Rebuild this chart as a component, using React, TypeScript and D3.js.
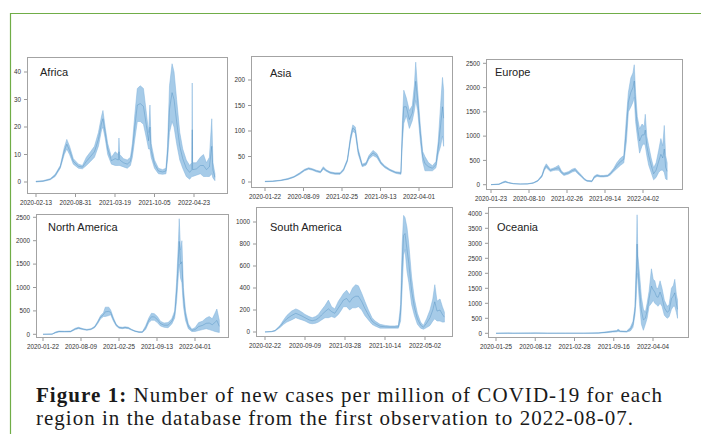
import React from "react";
import * as d3 from "d3";

type Row = [string, number, number]; // date, low, high (band of the noisy daily series)

const africa: Row[] = [
  ["2020-02-13", 0, 0.3], ["2020-03-20", 0.2, 0.5], ["2020-04-25", 0.8, 1.2], ["2020-05-20", 2, 2.8],
  ["2020-06-15", 5, 6], ["2020-07-05", 10, 12.5], ["2020-07-18", 12, 15.5], ["2020-08-01", 10, 13],
  ["2020-08-20", 6.5, 8.5], ["2020-09-15", 5, 6.5], ["2020-10-05", 4.8, 6], ["2020-10-25", 6, 9],
  ["2020-11-15", 7.5, 11], ["2020-12-05", 9, 13], ["2020-12-25", 13, 18], ["2021-01-10", 19, 24],
  ["2021-01-17", 20, 26], ["2021-01-28", 16, 20], ["2021-02-10", 10, 14], ["2021-03-01", 6.5, 9],
  ["2021-03-20", 6, 11], ["2021-04-05", 6, 10], ["2021-04-08", 6, 16], ["2021-04-12", 6, 10],
  ["2021-05-01", 5.5, 8.5], ["2021-05-20", 5, 8], ["2021-06-05", 6, 9], ["2021-06-15", 9, 14],
  ["2021-06-28", 16, 25], ["2021-07-10", 22, 34], ["2021-07-25", 22, 35], ["2021-08-10", 21, 34],
  ["2021-08-25", 16, 25], ["2021-09-05", 12, 18], ["2021-09-12", 12, 28], ["2021-09-18", 9, 14],
  ["2021-10-05", 5, 8], ["2021-10-25", 3, 5], ["2021-11-15", 2.8, 4.5], ["2021-12-02", 3, 5],
  ["2021-12-10", 8, 13], ["2021-12-20", 18, 35], ["2022-01-02", 22, 43], ["2022-01-12", 20, 40],
  ["2022-01-25", 14, 30], ["2022-02-10", 8, 18], ["2022-02-25", 5, 12], ["2022-03-15", 2, 8],
  ["2022-04-01", 1, 6], ["2022-04-12", 2, 7], ["2022-04-14", 2, 36], ["2022-04-16", 2, 7],
  ["2022-05-05", 2.5, 7], ["2022-05-25", 3, 9], ["2022-06-10", 2, 10], ["2022-06-25", 2, 7],
  ["2022-07-10", 2, 9], ["2022-07-22", 3, 23], ["2022-07-28", 1.5, 7], ["2022-08-07", 0.5, 3],
];

const asia: Row[] = [
  ["2020-01-22", 0.5, 1.5], ["2020-03-01", 1, 2], ["2020-04-10", 2.5, 3.5], ["2020-05-20", 5, 7],
  ["2020-06-20", 9, 11], ["2020-07-20", 15, 18], ["2020-08-15", 22, 25], ["2020-09-05", 25, 28],
  ["2020-09-25", 23, 26], ["2020-10-15", 20, 23], ["2020-11-05", 18, 21], ["2020-11-20", 25, 30],
  ["2020-12-05", 21, 24], ["2020-12-25", 17, 20], ["2021-01-20", 15, 18], ["2021-02-15", 15, 18],
  ["2021-03-05", 22, 26], ["2021-03-25", 40, 45], ["2021-04-10", 80, 90], ["2021-04-22", 100, 112],
  ["2021-05-05", 95, 108], ["2021-05-20", 55, 65], ["2021-06-10", 30, 35], ["2021-06-30", 33, 38],
  ["2021-07-15", 45, 52], ["2021-08-05", 52, 62], ["2021-08-25", 48, 56], ["2021-09-15", 35, 40],
  ["2021-10-05", 28, 32], ["2021-11-01", 22, 25], ["2021-12-01", 17, 20], ["2021-12-28", 15, 19],
  ["2022-01-05", 80, 120], ["2022-01-12", 115, 180], ["2022-01-25", 130, 165], ["2022-02-10", 105, 140],
  ["2022-02-25", 120, 150], ["2022-03-08", 140, 190], ["2022-03-15", 160, 235], ["2022-03-25", 140, 180],
  ["2022-04-08", 80, 110], ["2022-04-20", 40, 60], ["2022-05-02", 22, 50], ["2022-05-20", 22, 38],
  ["2022-06-10", 22, 32], ["2022-06-28", 28, 40], ["2022-07-10", 55, 80], ["2022-07-22", 70, 150],
  ["2022-08-01", 90, 205], ["2022-08-07", 70, 180],
];

const europe: Row[] = [
  ["2020-01-23", 0, 2], ["2020-03-05", 5, 15], ["2020-03-25", 35, 55], ["2020-04-07", 50, 75],
  ["2020-04-25", 35, 45], ["2020-05-20", 18, 25], ["2020-06-25", 12, 16], ["2020-08-01", 14, 18],
  ["2020-09-01", 30, 40], ["2020-09-25", 70, 90], ["2020-10-17", 160, 200], ["2020-10-30", 300, 360],
  ["2020-11-09", 350, 430], ["2020-11-30", 270, 320], ["2020-12-15", 290, 340], ["2020-12-27", 300, 360],
  ["2021-01-13", 300, 400], ["2021-01-28", 230, 280], ["2021-02-10", 190, 240], ["2021-03-07", 220, 270],
  ["2021-03-25", 260, 320], ["2021-04-10", 280, 340], ["2021-04-25", 220, 270], ["2021-05-10", 170, 210],
  ["2021-05-28", 100, 130], ["2021-06-11", 70, 90], ["2021-07-07", 60, 80], ["2021-07-20", 140, 180],
  ["2021-08-03", 170, 210], ["2021-08-20", 160, 190], ["2021-09-07", 160, 190], ["2021-09-28", 170, 200],
  ["2021-10-12", 200, 250], ["2021-10-30", 270, 340], ["2021-11-15", 330, 450], ["2021-12-05", 400, 550],
  ["2021-12-22", 450, 600], ["2022-01-05", 900, 1400], ["2022-01-15", 1500, 1900], ["2022-01-28", 1600, 2200],
  ["2022-02-08", 1700, 2300], ["2022-02-15", 1800, 2470], ["2022-02-22", 1300, 1900], ["2022-03-03", 1000, 1400],
  ["2022-03-15", 650, 1150], ["2022-03-28", 800, 1250], ["2022-04-08", 850, 1200], ["2022-04-14", 800, 1450],
  ["2022-04-22", 600, 1000], ["2022-05-02", 400, 800], ["2022-05-15", 250, 550], ["2022-05-28", 100, 350],
  ["2022-06-10", 150, 450], ["2022-06-23", 250, 700], ["2022-07-05", 300, 950], ["2022-07-15", 300, 800],
  ["2022-07-23", 250, 1220], ["2022-07-30", 120, 600], ["2022-08-07", 100, 450],
];

const northAmerica: Row[] = [
  ["2020-01-22", 0, 1], ["2020-03-10", 2, 6], ["2020-03-28", 30, 50], ["2020-04-15", 50, 70],
  ["2020-05-15", 50, 65], ["2020-06-15", 50, 70], ["2020-07-10", 100, 130], ["2020-07-27", 120, 150],
  ["2020-08-20", 100, 120], ["2020-09-09", 85, 105], ["2020-10-01", 100, 120], ["2020-10-20", 140, 170],
  ["2020-11-05", 230, 280], ["2020-11-20", 330, 400], ["2020-12-05", 380, 460], ["2020-12-15", 380, 580],
  ["2021-01-02", 400, 580], ["2021-01-12", 420, 520], ["2021-01-27", 280, 350], ["2021-02-10", 180, 220],
  ["2021-02-25", 130, 160], ["2021-03-15", 120, 150], ["2021-03-29", 130, 160], ["2021-04-15", 120, 150],
  ["2021-05-01", 90, 110], ["2021-05-20", 60, 75], ["2021-06-10", 40, 55], ["2021-06-28", 40, 55],
  ["2021-07-15", 100, 180], ["2021-08-01", 250, 350], ["2021-08-15", 300, 450], ["2021-08-30", 300, 440],
  ["2021-09-15", 250, 380], ["2021-10-01", 180, 280], ["2021-10-20", 150, 240], ["2021-11-10", 140, 250],
  ["2021-11-30", 220, 330], ["2021-12-15", 350, 500], ["2021-12-25", 700, 1100], ["2022-01-04", 1300, 2000],
  ["2022-01-08", 1500, 2470], ["2022-01-15", 1200, 1800], ["2022-01-22", 1100, 2000], ["2022-01-30", 600, 1000],
  ["2022-02-10", 300, 500], ["2022-02-25", 120, 220], ["2022-03-15", 60, 110], ["2022-04-01", 60, 140],
  ["2022-04-20", 80, 250], ["2022-05-10", 100, 280], ["2022-05-30", 120, 350], ["2022-06-15", 100, 380],
  ["2022-07-01", 80, 330], ["2022-07-15", 60, 450], ["2022-07-25", 50, 540], ["2022-08-07", 40, 300],
];

const southAmerica: Row[] = [
  ["2020-02-22", 0, 1], ["2020-03-25", 2, 5], ["2020-04-12", 8, 15], ["2020-05-07", 40, 60],
  ["2020-05-25", 70, 110], ["2020-06-10", 90, 150], ["2020-07-04", 110, 190], ["2020-07-25", 130, 210],
  ["2020-08-07", 120, 200], ["2020-08-25", 110, 180], ["2020-09-09", 100, 160], ["2020-09-30", 80, 140],
  ["2020-10-15", 75, 130], ["2020-11-01", 80, 140], ["2020-11-15", 90, 160], ["2020-12-01", 110, 200],
  ["2020-12-18", 130, 240], ["2021-01-04", 130, 290], ["2021-01-20", 140, 230], ["2021-02-05", 130, 210],
  ["2021-02-23", 160, 280], ["2021-03-10", 200, 320], ["2021-03-20", 230, 350], ["2021-04-05", 230, 380],
  ["2021-04-20", 200, 340], ["2021-05-05", 220, 400], ["2021-05-20", 220, 430], ["2021-06-03", 230, 420],
  ["2021-06-20", 200, 350], ["2021-07-05", 150, 280], ["2021-07-23", 110, 200], ["2021-08-10", 70, 130],
  ["2021-08-25", 55, 100], ["2021-09-19", 35, 70], ["2021-10-15", 35, 60], ["2021-11-08", 35, 55],
  ["2021-12-01", 35, 55], ["2021-12-20", 35, 60], ["2021-12-31", 100, 250], ["2022-01-08", 400, 800],
  ["2022-01-15", 700, 1060], ["2022-01-22", 750, 1040], ["2022-02-01", 550, 950], ["2022-02-10", 450, 800],
  ["2022-02-24", 250, 500], ["2022-03-10", 150, 300], ["2022-03-25", 70, 170], ["2022-04-10", 35, 90],
  ["2022-04-24", 25, 60], ["2022-05-10", 40, 120], ["2022-05-27", 60, 200], ["2022-06-10", 100, 300],
  ["2022-06-20", 120, 430], ["2022-07-01", 100, 280], ["2022-07-16", 100, 300], ["2022-07-28", 90, 230],
  ["2022-08-07", 90, 180],
];

const oceania: Row[] = [
  ["2020-01-25", 0, 1], ["2020-03-25", 3, 8], ["2020-04-20", 1, 3], ["2020-07-20", 3, 8],
  ["2020-08-15", 5, 10], ["2020-10-15", 1, 3], ["2021-01-15", 1, 4], ["2021-04-15", 1, 4],
  ["2021-07-01", 5, 15], ["2021-08-10", 20, 50], ["2021-09-10", 40, 80], ["2021-10-01", 50, 90],
  ["2021-10-08", 60, 140], ["2021-10-20", 50, 80], ["2021-11-20", 40, 70], ["2021-12-10", 80, 200],
  ["2021-12-23", 200, 400], ["2022-01-02", 600, 900], ["2022-01-09", 1200, 2500], ["2022-01-13", 2000, 3950],
  ["2022-01-17", 1800, 2600], ["2022-01-25", 1000, 2000], ["2022-02-04", 300, 1200], ["2022-02-14", 100, 800],
  ["2022-02-24", 300, 700], ["2022-03-05", 500, 1000], ["2022-03-15", 900, 1400], ["2022-03-27", 1000, 2150],
  ["2022-04-05", 1100, 1800], ["2022-04-13", 1000, 1750], ["2022-04-22", 950, 1500], ["2022-04-30", 900, 1500],
  ["2022-05-10", 1000, 1750], ["2022-05-20", 900, 1500], ["2022-06-01", 600, 1100], ["2022-06-15", 500, 900],
  ["2022-06-25", 550, 950], ["2022-07-07", 800, 1500], ["2022-07-17", 900, 1600], ["2022-07-24", 900, 1800],
  ["2022-08-01", 700, 1300], ["2022-08-07", 500, 1100],
];

const regionNames = ["Africa", "Asia", "Europe", "North America", "South America", "Oceania"];

const africaXTicks = ["2020-02-13", "2020-08-31", "2021-03-19", "2021-10-05", "2022-04-23"];
const asiaXTicks = ["2020-01-22", "2020-08-09", "2021-02-25", "2021-09-13", "2022-04-01"];
const europeXTicks = ["2020-01-23", "2020-08-10", "2021-02-26", "2021-09-14", "2022-04-02"];
const northAmericaXTicks = ["2020-01-22", "2020-08-09", "2021-02-25", "2021-09-13", "2022-04-01"];
const southAmericaXTicks = ["2020-02-22", "2020-09-09", "2021-03-28", "2021-10-14", "2022-05-02"];
const oceaniaXTicks = ["2020-01-25", "2020-08-12", "2021-02-28", "2021-09-16", "2022-04-04"];

const africaYTicks = [0, 10, 20, 30, 40];
const asiaYTicks = [0, 50, 100, 150, 200];
const europeYTicks = [0, 500, 1000, 1500, 2000, 2500];
const northAmericaYTicks = [0, 500, 1000, 1500, 2000, 2500];
const southAmericaYTicks = [0, 200, 400, 600, 800, 1000];
const oceaniaYTicks = [0, 500, 1000, 1500, 2000, 2500, 3000, 3500, 4000];

const captionLine1Bold = "Figure 1:";
const captionLine1 = " Number of new cases per million of COVID-19 for each";
const captionLine2 = "region in the database from the first observation to 2022-08-07.";

const seriesList = [africa, asia, europe, northAmerica, southAmerica, oceania];
const xTickList = [africaXTicks, asiaXTicks, europeXTicks, northAmericaXTicks, southAmericaXTicks, oceaniaXTicks];
const yTickList = [africaYTicks, asiaYTicks, europeYTicks, northAmericaYTicks, southAmericaYTicks, oceaniaYTicks];

// layout: frame [x0,y0,x1,y1], pixel of first/last x tick, pixel of first/last y tick, label position
const layout = [
  { frame: [27, 57, 228, 194], xPx: [36, 194], yPx: [182, 72], label: [40, 76] },
  { frame: [251, 56, 453, 188], xPx: [265, 419], yPx: [182, 80], label: [270, 77] },
  { frame: [486, 59, 683, 190], xPx: [491, 643], yPx: [184.7, 63.3], label: [495, 76] },
  { frame: [36, 214, 229, 338], xPx: [43, 195], yPx: [334.3, 217.3], label: [48, 231] },
  { frame: [256, 207, 453, 337], xPx: [265, 425], yPx: [332, 222], label: [270, 231] },
  { frame: [488, 207, 689, 338], xPx: [496, 653], yPx: [333.3, 213.3], label: [497, 231] },
];

const parse = d3.timeParse("%Y-%m-%d");

function Panel({ idx }: { idx: number }) {
  const L = layout[idx];
  const data = seriesList[idx].map((r) => ({ d: parse(r[0]) as Date, lo: r[1], hi: r[2] }));
  const xt = xTickList[idx].map((s) => parse(s) as Date);
  const yt = yTickList[idx];
  const [fx0, fy0, fx1, fy1] = L.frame;
  const x = d3.scaleTime().domain([xt[0], xt[xt.length - 1]]).range(L.xPx);
  const y = d3.scaleLinear().domain([yt[0], yt[yt.length - 1]]).range(L.yPx);
  const area = d3
    .area<{ d: Date; lo: number; hi: number }>()
    .x((p) => x(p.d))
    .y0((p) => y(p.lo))
    .y1((p) => y(p.hi));
  const mid = d3
    .line<{ d: Date; lo: number; hi: number }>()
    .x((p) => x(p.d))
    .y((p) => y((p.lo + p.hi) / 2));
  const clipId = `clip${idx}`;
  const tickFont = { fontFamily: "Liberation Sans, Arial, sans-serif", fontSize: 6.3, fill: "#333" } as const;
  return (
    <g>
      <defs>
        <clipPath id={clipId}>
          <rect x={fx0} y={fy0} width={fx1 - fx0} height={fy1 - fy0} />
        </clipPath>
      </defs>
      <rect x={fx0} y={fy0} width={fx1 - fx0} height={fy1 - fy0} fill="#fff" />
      <g clipPath={`url(#${clipId})`}>
        <path d={area(data) || ""} fill="#a6cbe8" stroke="#80b3dc" strokeWidth={0.5} />
        <path d={mid(data) || ""} fill="none" stroke="#2c74b0" strokeWidth={0.5} strokeOpacity={0.6} />
      </g>
      <rect x={fx0 + 0.5} y={fy0 + 0.5} width={fx1 - fx0 - 1} height={fy1 - fy0 - 1} fill="none" stroke="#a3a3a3" strokeWidth={1} />
      {yt.map((v) => (
        <g key={`y${v}`}>
          <line x1={fx0 - 3} x2={fx0} y1={y(v)} y2={y(v)} stroke="#555" strokeWidth={0.6} />
          <text x={fx0 - 6} y={y(v) + 2.2} textAnchor="end" {...tickFont}>
            {v}
          </text>
        </g>
      ))}
      {xt.map((t, i) => (
        <g key={`x${i}`}>
          <line x1={x(t)} x2={x(t)} y1={fy1} y2={fy1 + 3} stroke="#555" strokeWidth={0.6} />
          <text x={x(t)} y={fy1 + 10.5} textAnchor="middle" {...tickFont}>
            {xTickList[idx][i]}
          </text>
        </g>
      ))}
      <text x={L.label[0]} y={L.label[1]} fontFamily="Liberation Sans, Arial, sans-serif" fontSize={11} fill="#222">
        {regionNames[idx]}
      </text>
    </g>
  );
}

export default function App() {
  return (
    <svg
      width={701}
      height={434}
      viewBox="0 0 701 434"
      style={{ position: "absolute", left: 0, top: 0, display: "block", background: "#fff" }}
    >
      <rect x={0} y={0} width={701} height={434} fill="#fff" />
      <line x1={10} x2={701} y1={13.5} y2={13.5} stroke="#70ad47" strokeWidth={1.2} />
      <line x1={10.5} x2={10.5} y1={13} y2={434} stroke="#70ad47" strokeWidth={1.2} />
      {regionNames.map((_, i) => (
        <Panel key={i} idx={i} />
      ))}
      <text x={36} y={402} fontFamily="Liberation Serif, Times New Roman, serif" fontSize={21} fill="#1a1a1a" textLength={626} lengthAdjust="spacing">
        <tspan fontWeight="bold">{captionLine1Bold}</tspan>
        <tspan>{captionLine1}</tspan>
      </text>
      <text x={36} y={425} fontFamily="Liberation Serif, Times New Roman, serif" fontSize={21} fill="#1a1a1a" textLength={597} lengthAdjust="spacing">
        {captionLine2}
      </text>
    </svg>
  );
}
